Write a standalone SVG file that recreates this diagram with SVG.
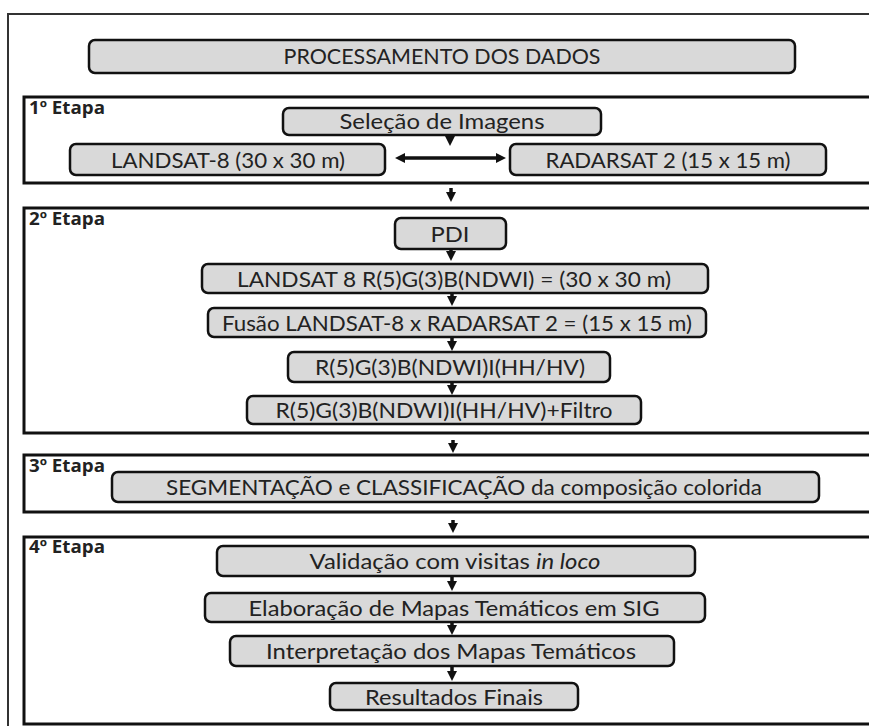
<svg xmlns="http://www.w3.org/2000/svg" width="869" height="726" viewBox="0 0 869 726">
<defs>
<style>
.frame{fill:none;stroke:#333;stroke-width:2}
.stage{fill:#fff;stroke:#111;stroke-width:3}
.box{fill:#d9d9d9;stroke:#111;stroke-width:2.5}
.t{font-family:Lato,"Open Sans",sans-serif;font-size:22px;fill:#222;text-anchor:middle}
.lbl{font-family:"Open Sans",Lato,sans-serif;font-size:17px;font-weight:bold;fill:#222}
.ar{stroke:#111;stroke-width:3.5;fill:none}
</style>
<marker id="ah" viewBox="0 0 10 10" refX="5" refY="5" markerWidth="10" markerHeight="10" markerUnits="userSpaceOnUse" orient="auto-start-reverse">
<path d="M0,0 L10,5 L0,10 z" fill="#111"/>
</marker>
</defs>
<rect width="869" height="726" fill="#fff"/>
<rect class="frame" x="8" y="14" width="870" height="720"/>

<g id="title">
<rect class="box" x="89" y="40" width="706" height="33" rx="6"/>
<text class="t" x="442" y="64" textLength="317" lengthAdjust="spacingAndGlyphs">PROCESSAMENTO DOS DADOS</text>
</g>

<g id="etapa1">
<rect class="stage" x="24" y="97" width="852" height="86"/>
<text class="lbl" x="29" y="114" textLength="76" lengthAdjust="spacingAndGlyphs">1º Etapa</text>
</g>
<g id="selecao">
<rect class="box" x="283" y="108" width="318" height="27" rx="6"/>
<text class="t" x="442" y="129" textLength="205" lengthAdjust="spacingAndGlyphs">Seleção de Imagens</text>
</g>
<g id="landsat8">
<rect class="box" x="70" y="144" width="315" height="31" rx="6"/>
<text class="t" x="228" y="168" textLength="234" lengthAdjust="spacingAndGlyphs">LANDSAT-8 (30 x 30 m)</text>
</g>
<g id="radarsat2">
<rect class="box" x="510" y="144" width="316" height="31" rx="6"/>
<text class="t" x="668" y="168" textLength="245" lengthAdjust="spacingAndGlyphs">RADARSAT 2 (15 x 15 m)</text>
</g>

<g id="etapa2">
<rect class="stage" x="24" y="208" width="852" height="225"/>
<text class="lbl" x="29" y="225" textLength="76" lengthAdjust="spacingAndGlyphs">2º Etapa</text>
</g>
<g id="pdi">
<rect class="box" x="395" y="218" width="111" height="31" rx="6"/>
<text class="t" x="450" y="242" textLength="39" lengthAdjust="spacingAndGlyphs">PDI</text>
</g>
<g id="landsat8rgb">
<rect class="box" x="202" y="264" width="506" height="29" rx="6"/>
<text class="t" x="454" y="287" textLength="434" lengthAdjust="spacingAndGlyphs">LANDSAT 8 R(5)G(3)B(NDWI) = (30 x 30 m)</text>
</g>
<g id="fusao">
<rect class="box" x="208" y="308" width="498" height="29" rx="6"/>
<text class="t" x="457" y="331" textLength="470" lengthAdjust="spacingAndGlyphs">Fusão LANDSAT-8 x RADARSAT 2 = (15 x 15 m)</text>
</g>
<g id="rgbi">
<rect class="box" x="288" y="352" width="322" height="30" rx="6"/>
<text class="t" x="450" y="375" textLength="270" lengthAdjust="spacingAndGlyphs">R(5)G(3)B(NDWI)I(HH/HV)</text>
</g>
<g id="rgbifiltro">
<rect class="box" x="247" y="396" width="394" height="28" rx="6"/>
<text class="t" x="444" y="418" textLength="337" lengthAdjust="spacingAndGlyphs">R(5)G(3)B(NDWI)I(HH/HV)+Filtro</text>
</g>

<g id="etapa3">
<rect class="stage" x="24" y="455" width="852" height="57"/>
<text class="lbl" x="29" y="472" textLength="76" lengthAdjust="spacingAndGlyphs">3º Etapa</text>
</g>
<g id="segmentacao">
<rect class="box" x="112" y="472" width="707" height="30" rx="6"/>
<text class="t" x="464" y="495" textLength="596" lengthAdjust="spacingAndGlyphs">SEGMENTAÇÃO e CLASSIFICAÇÃO da composição colorida</text>
</g>

<g id="etapa4">
<rect class="stage" x="24" y="537" width="852" height="187"/>
<text class="lbl" x="29" y="553" textLength="76" lengthAdjust="spacingAndGlyphs">4º Etapa</text>
</g>
<g id="validacao">
<rect class="box" x="217" y="546" width="478" height="30" rx="6"/>
<text class="t" x="455" y="569" textLength="291" lengthAdjust="spacingAndGlyphs">Validação com visitas <tspan font-style="italic">in loco</tspan></text>
</g>
<g id="elaboracao">
<rect class="box" x="205" y="593" width="500" height="29" rx="6"/>
<text class="t" x="454" y="616" textLength="411" lengthAdjust="spacingAndGlyphs">Elaboração de Mapas Temáticos em SIG</text>
</g>
<g id="interpretacao">
<rect class="box" x="230" y="636" width="444" height="30" rx="6"/>
<text class="t" x="451" y="659" textLength="370" lengthAdjust="spacingAndGlyphs">Interpretação dos Mapas Temáticos</text>
</g>
<g id="resultados">
<rect class="box" x="330" y="683" width="248" height="27" rx="6"/>
<text class="t" x="454" y="705" textLength="178" lengthAdjust="spacingAndGlyphs">Resultados Finais</text>
</g>

<g id="connectors">
<line class="ar" x1="450" y1="135" x2="450" y2="141" marker-end="url(#ah)"/>
<line class="ar" x1="400" y1="158" x2="501" y2="158" marker-start="url(#ah)" marker-end="url(#ah)"/>
<line class="ar" x1="451" y1="188" x2="451" y2="197" marker-end="url(#ah)"/>
<line class="ar" x1="451" y1="249" x2="451" y2="256" marker-end="url(#ah)"/>
<line class="ar" x1="452" y1="293" x2="452" y2="301" marker-end="url(#ah)"/>
<line class="ar" x1="452" y1="337" x2="452" y2="346" marker-end="url(#ah)"/>
<line class="ar" x1="452" y1="382" x2="452" y2="390" marker-end="url(#ah)"/>
<line class="ar" x1="453" y1="440" x2="453" y2="448" marker-end="url(#ah)"/>
<line class="ar" x1="453" y1="520" x2="453" y2="528" marker-end="url(#ah)"/>
<line class="ar" x1="452" y1="576" x2="452" y2="586" marker-end="url(#ah)"/>
<line class="ar" x1="452" y1="622" x2="452" y2="630" marker-end="url(#ah)"/>
<line class="ar" x1="452" y1="666" x2="452" y2="676" marker-end="url(#ah)"/>
</g>
</svg>
